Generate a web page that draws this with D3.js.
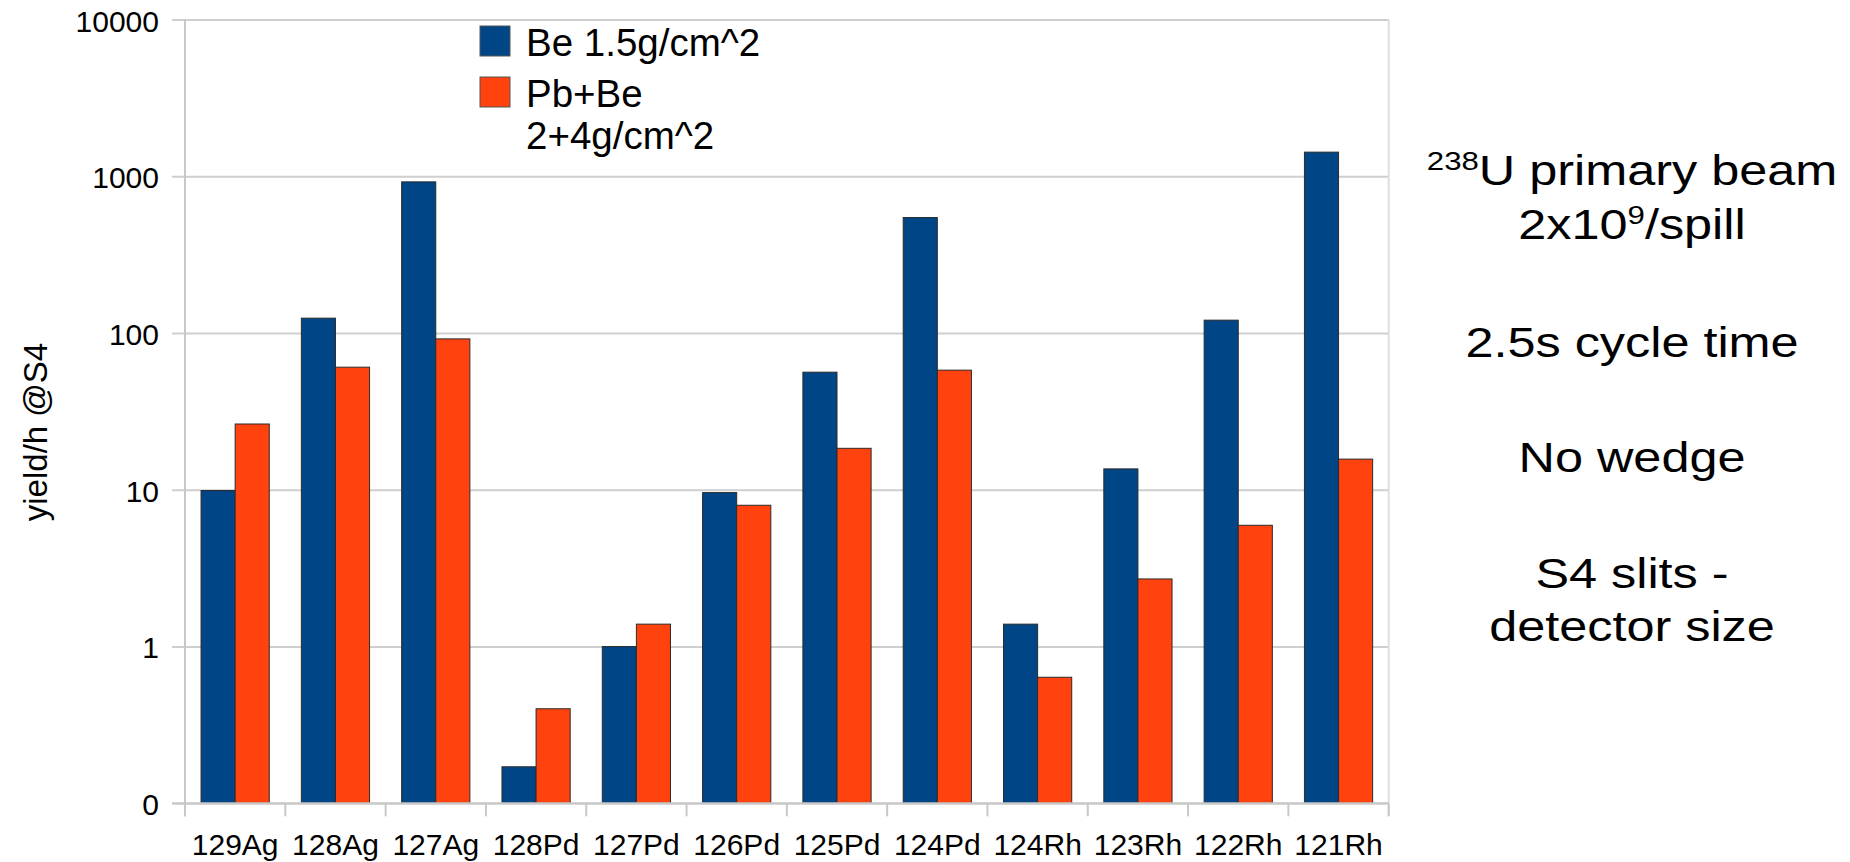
<!DOCTYPE html>
<html>
<head>
<meta charset="utf-8">
<script src="https://cdn.jsdelivr.net/npm/d3@7/dist/d3.min.js"></script>
<style>
  html, body { margin: 0; padding: 0; background: #ffffff; }
  svg { display: block; font-family: "Liberation Sans", Arial, sans-serif; }
</style>
</head>
<body>
<svg id="chart" width="1850" height="862"></svg>
<script>
// Isotopes along the x axis
const categories = ["129Ag", "128Ag", "127Ag", "128Pd", "127Pd", "126Pd",
                    "125Pd", "124Pd", "124Rh", "123Rh", "122Rh", "121Rh"];

// Yields per hour at S4 for the two target configurations
const beValues   = [9.9, 124.5, 922, 0.171, 1.0, 9.6, 56.3, 546, 1.39, 13.6, 120.9, 1427];
const pbBeValues = [26.3, 60.6, 91.8, 0.401, 1.39, 7.97, 18.4, 58.0, 0.637, 2.70, 5.94, 15.7];

// Series names (legend lines) and colours
const seriesKeys   = ["be", "pbbe"];
const seriesLabels = [["Be 1.5g/cm^2"], ["Pb+Be", "2+4g/cm^2"]];
const seriesColors = ["#004586", "#ff420e"];

// Log axis ticks; the lowest decade is labelled "0"
const tickValues = [0.1, 1, 10, 100, 1000, 10000];
const tickLabels = ["0", "1", "10", "100", "1000", "10000"];

const yTitle = "yield/h @S4";

const svg = d3.select("#chart");

const plotLeft = 185, plotRight = 1388.7, plotTop = 19.6, plotBottom = 803.3;

const x = d3.scaleBand().domain(categories).range([plotLeft, plotRight]).padding(0);
const bw = x.bandwidth();
const xs = d3.scaleBand().domain(seriesKeys).range([bw * 0.16, bw * 0.84]).padding(0);
const y = d3.scaleLog().domain([0.1, 10000]).range([plotBottom, plotTop]);

const gridColor = "#cfcfcf";

// Horizontal gridlines with short ticks to the left of the axis
const yAxis = d3.axisLeft(y)
  .tickValues(tickValues)
  .tickFormat((d, i) => tickLabels[i])
  .tickSizeInner(-(plotRight - plotLeft))
  .tickSizeOuter(0)
  .tickPadding(26);
const gy = svg.append("g").attr("transform", `translate(${plotLeft},0)`).call(yAxis);
gy.select(".domain").remove();
gy.selectAll(".tick line")
  .attr("x1", -13)
  .attr("stroke", gridColor)
  .attr("stroke-width", 2);
gy.selectAll(".tick text")
  .attr("x", -26)
  .attr("dy", "0.38em")
  .attr("fill", "#000")
  .style("font-size", "30px")
  .style("font-family", "'Liberation Sans', Arial, sans-serif");

// Left axis line and right frame line
svg.append("line")
  .attr("x1", plotLeft).attr("x2", plotLeft)
  .attr("y1", plotTop).attr("y2", plotBottom + 13)
  .attr("stroke", "#c8c8c8").attr("stroke-width", 2);
svg.append("line")
  .attr("x1", plotRight).attr("x2", plotRight)
  .attr("y1", plotTop).attr("y2", plotBottom + 13)
  .attr("stroke", "#dedede").attr("stroke-width", 2);

// Bars
const rows = categories.map((c, i) => ({ c, be: beValues[i], pbbe: pbBeValues[i] }));
const groups = svg.append("g").selectAll("g")
  .data(rows)
  .join("g")
  .attr("transform", d => `translate(${x(d.c)},0)`);
groups.selectAll("rect")
  .data(d => seriesKeys.map((k, j) => ({ k, v: d[k], color: seriesColors[j] })))
  .join("rect")
  .attr("x", d => xs(d.k))
  .attr("width", xs.bandwidth())
  .attr("y", d => y(d.v))
  .attr("height", d => y(0.1) - y(d.v))
  .attr("fill", d => d.color)
  .attr("stroke", "#2b2b2b")
  .attr("stroke-width", 1);

// Bottom axis: baseline, boundary ticks and category labels
const xAxis = d3.axisBottom(x).tickSize(0).tickPadding(30.5);
const gx = svg.append("g").attr("transform", `translate(0,${plotBottom})`).call(xAxis);
gx.select(".domain").remove();
gx.selectAll(".tick text")
  .attr("fill", "#000")
  .style("font-size", "30px")
  .style("font-family", "'Liberation Sans', Arial, sans-serif");
svg.append("line")
  .attr("x1", plotLeft - 13).attr("x2", plotRight)
  .attr("y1", plotBottom).attr("y2", plotBottom)
  .attr("stroke", "#c8c8c8").attr("stroke-width", 2);
const bounds = categories.map(c => x(c)).concat([x(categories[categories.length - 1]) + bw]);
svg.append("g").selectAll("line")
  .data(bounds)
  .join("line")
  .attr("x1", d => d).attr("x2", d => d)
  .attr("y1", plotBottom).attr("y2", plotBottom + 13)
  .attr("stroke", "#c8c8c8").attr("stroke-width", 2);

// Y axis title
svg.append("text")
  .attr("transform", "translate(47,432) rotate(-90)")
  .attr("text-anchor", "middle")
  .style("font-size", "33px")
  .attr("fill", "#000")
  .text(yTitle);

// Legend
const legend = svg.append("g");
const legendRowsY = [26, 77];
seriesLabels.forEach((lines, j) => {
  legend.append("rect")
    .attr("x", 480).attr("y", legendRowsY[j])
    .attr("width", 30).attr("height", 30)
    .attr("fill", seriesColors[j])
    .attr("stroke", "#555").attr("stroke-width", 1);
  const t = legend.append("text")
    .attr("x", 526).attr("y", legendRowsY[j] + 29.5)
    .attr("fill", "#000")
    .style("font-size", "38.5px");
  lines.forEach((line, k) => {
    t.append("tspan")
      .attr("x", 526)
      .attr("dy", k === 0 ? 0 : 42.3)
      .text(line);
  });
});

// Side notes on the beam conditions
const notes = svg.append("g")
  .attr("transform", "translate(1632,0) scale(1.2,1)")
  .attr("text-anchor", "middle")
  .attr("fill", "#000")
  .style("font-size", "42px");
const l1 = notes.append("text").attr("x", 0).attr("y", 185);
l1.append("tspan").attr("dy", -15).style("font-size", "26px").text("238");
l1.append("tspan").attr("dy", 15).text("U primary beam");
const l2 = notes.append("text").attr("x", 0).attr("y", 239);
l2.append("tspan").text("2x10");
l2.append("tspan").attr("dy", -15).style("font-size", "26px").text("9");
l2.append("tspan").attr("dy", 15).text("/spill");
notes.append("text").attr("x", 0).attr("y", 357).text("2.5s cycle time");
notes.append("text").attr("x", 0).attr("y", 472).text("No wedge");
notes.append("text").attr("x", 0).attr("y", 588).text("S4 slits -");
notes.append("text").attr("x", 0).attr("y", 641).text("detector size");
</script>
</body>
</html>
